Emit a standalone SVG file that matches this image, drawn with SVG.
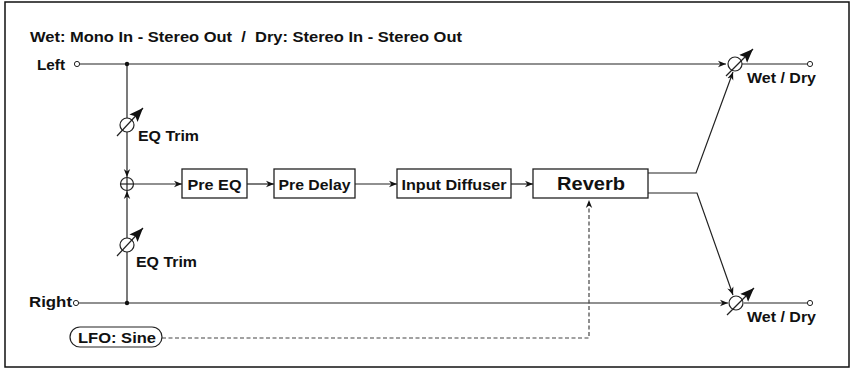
<svg xmlns="http://www.w3.org/2000/svg" width="852" height="369" viewBox="0 0 852 369">
<defs>
<style>
text{font-family:"Liberation Sans",Arial,sans-serif;font-weight:bold;fill:#111}
.t{font-size:15px}
.c{font-size:15px;text-anchor:middle}
.ln{stroke:#222;stroke-width:1.2;fill:none}
.box{fill:#fff;stroke:#222;stroke-width:1.3}
.port{fill:#fff;stroke:#222;stroke-width:1}
.dash{stroke:#444;stroke-width:1.2;fill:none;stroke-dasharray:4 2.5}
</style>
<marker id="ah" viewBox="0 0 10 10" refX="10" refY="5" markerWidth="8" markerHeight="8" markerUnits="userSpaceOnUse" orient="auto">
<path d="M0,1 L10,5 L0,9 L3,5 Z" fill="#111"/>
</marker>
<marker id="big" viewBox="0 0 10 10" refX="10" refY="5" markerWidth="14" markerHeight="14" markerUnits="userSpaceOnUse" orient="auto">
<path d="M0,1 L10,5 L0,9 L2,5 Z" fill="#111"/>
</marker>
</defs>
<rect x="5" y="2" width="844" height="365" fill="#fff" stroke="#111" stroke-width="1.5"/>
<text x="30" y="42" font-size="14" textLength="432" lengthAdjust="spacingAndGlyphs" xml:space="preserve">Wet: Mono In - Stereo Out  /  Dry: Stereo In - Stereo Out</text>

<g id="connectors">
<line class="ln" x1="80" y1="64" x2="726" y2="64" marker-end="url(#ah)"/>
<line class="ln" x1="742" y1="64" x2="807" y2="64"/>
<line class="ln" x1="79" y1="303" x2="728" y2="303" stroke="#555" stroke-width="1.6" marker-end="url(#ah)"/>
<line class="ln" x1="744" y1="303" x2="807" y2="303" stroke="#555" stroke-width="1.6"/>
<line class="ln" x1="127" y1="64" x2="127" y2="177" marker-end="url(#ah)"/>
<line class="ln" x1="127" y1="303" x2="127" y2="191" marker-end="url(#ah)"/>
<line class="ln" x1="134" y1="184" x2="182" y2="184" marker-end="url(#ah)"/>
<line class="ln" x1="247" y1="184" x2="274" y2="184" marker-end="url(#ah)"/>
<line class="ln" x1="355" y1="184" x2="397" y2="184" marker-end="url(#ah)"/>
<line class="ln" x1="511" y1="184" x2="533" y2="184" marker-end="url(#ah)"/>
<polyline class="ln" points="648,173 696,173 733,72" marker-end="url(#ah)"/>
<polyline class="ln" points="648,193 697,193 733,295" marker-end="url(#ah)" stroke="#444"/>
<polyline class="dash" points="162,338 589,338 589,200" marker-end="url(#ah)"/>
<circle cx="127" cy="64" r="2.2" fill="#111"/>
<circle cx="127" cy="303" r="2.2" fill="#111"/>
</g>

<g id="in-left">
<circle class="port" cx="77" cy="64" r="2.6"/>
<text class="t" x="37" y="70" textLength="28" lengthAdjust="spacingAndGlyphs">Left</text>
</g>
<g id="in-right">
<circle class="port" cx="76" cy="303" r="2.6"/>
<text class="t" x="29" y="307" textLength="43" lengthAdjust="spacingAndGlyphs">Right</text>
</g>

<g id="eq-trim-left">
<circle cx="127" cy="125" r="7" fill="#fff" stroke="#222" stroke-width="1.2"/>
<line class="ln" x1="117" y1="136" x2="143" y2="108" marker-end="url(#big)"/>
<text class="t" x="138" y="141" textLength="61" lengthAdjust="spacingAndGlyphs">EQ Trim</text>
</g>
<g id="eq-trim-right">
<circle cx="127" cy="245" r="7" fill="#fff" stroke="#222" stroke-width="1.2"/>
<line class="ln" x1="117" y1="256" x2="143" y2="228" marker-end="url(#big)"/>
<text class="t" x="136" y="267" textLength="61" lengthAdjust="spacingAndGlyphs">EQ Trim</text>
</g>

<g id="sum">
<circle cx="127" cy="184" r="6.5" fill="#fff" stroke="#222" stroke-width="1.2"/>
<line class="ln" x1="120.5" y1="184" x2="133.5" y2="184"/>
<line class="ln" x1="127" y1="177.5" x2="127" y2="190.5"/>
</g>

<g id="pre-eq">
<rect class="box" x="182" y="169" width="65" height="29"/>
<text class="c" x="214.5" y="190" textLength="54" lengthAdjust="spacingAndGlyphs">Pre EQ</text>
</g>
<g id="pre-delay">
<rect class="box" x="274" y="169" width="81" height="29"/>
<text class="c" x="314.5" y="190" textLength="72" lengthAdjust="spacingAndGlyphs">Pre Delay</text>
</g>
<g id="input-diffuser">
<rect class="box" x="397" y="169" width="114" height="29"/>
<text class="c" x="454" y="190" textLength="105" lengthAdjust="spacingAndGlyphs">Input Diffuser</text>
</g>
<g id="reverb">
<rect class="box" x="533" y="169" width="115" height="29"/>
<text x="591" y="190" font-size="19" text-anchor="middle" textLength="68" lengthAdjust="spacingAndGlyphs">Reverb</text>
</g>

<g id="wetdry-left">
<circle cx="735" cy="64" r="7" fill="#fff" stroke="#222" stroke-width="1.2"/>
<line class="ln" x1="726" y1="76" x2="753" y2="49" marker-end="url(#big)"/>
<circle class="port" cx="810" cy="64" r="2.6"/>
<text class="t" x="747" y="83" textLength="69" lengthAdjust="spacingAndGlyphs">Wet / Dry</text>
</g>
<g id="wetdry-right">
<circle cx="736" cy="303" r="7" fill="#fff" stroke="#222" stroke-width="1.2"/>
<line class="ln" x1="727" y1="315" x2="754" y2="288" marker-end="url(#big)"/>
<circle class="port" cx="810" cy="303" r="2.6"/>
<text class="t" x="747" y="322" textLength="69" lengthAdjust="spacingAndGlyphs">Wet / Dry</text>
</g>

<g id="lfo">
<rect x="70" y="327" width="92" height="20" rx="10" fill="#fff" stroke="#222" stroke-width="1.2"/>
<text class="c" x="117" y="342.5" textLength="78" lengthAdjust="spacingAndGlyphs">LFO: Sine</text>
</g>
</svg>
